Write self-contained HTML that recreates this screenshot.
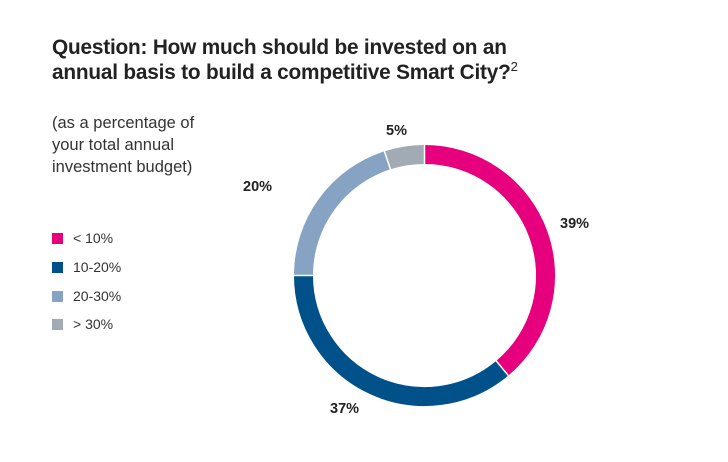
<!DOCTYPE html>
<html><head><style>
body{margin:0;background:#fff;width:728px;height:462px;overflow:hidden;font-family:"Liberation Sans",sans-serif;color:#222;}
.t{position:absolute;left:52px;top:35px;font-size:20.8px;font-weight:bold;line-height:25px;letter-spacing:-0.2px;}
.t sup{font-size:13px;font-weight:normal;line-height:0;vertical-align:8px;}
.s{position:absolute;left:52px;top:112px;font-size:16.5px;line-height:22px;color:#333;}
.l{position:absolute;left:52px;font-size:14px;color:#333;}
.l i{display:inline-block;width:11px;height:11px;margin-right:10px;vertical-align:-1px;}
svg{position:absolute;left:0;top:0;}
</style></head><body>
<div class="t">Question: How much should be invested on an<br>annual basis to build a competitive Smart City?<sup>2</sup></div>
<div class="s">(as a percentage of<br>your total annual<br>investment budget)</div>
<div class="l" style="top:230px"><i style="background:#e6007e"></i>&lt; 10%</div>
<div class="l" style="top:259px"><i style="background:#005189"></i>10-20%</div>
<div class="l" style="top:288px"><i style="background:#86a3c4"></i>20-30%</div>
<div class="l" style="top:316px"><i style="background:#a2abb3"></i>&gt; 30%</div>
<svg width="728" height="462">
<g fill="none" stroke-width="19">
<path d="M424.5,154.5 A121,121 0 0 1 502.3,368.2" stroke="#e6007e"/>
<path d="M502.3,368.2 A121,121 0 0 1 303.5,275.5" stroke="#005189"/>
<path d="M303.5,275.5 A121,121 0 0 1 387.1,160.4" stroke="#86a3c4"/>
<path d="M387.1,160.4 A121,121 0 0 1 424.5,154.5" stroke="#a2abb3"/>
</g>
<g stroke="#fff" stroke-width="1.5">
<line x1="424.5" y1="140" x2="424.5" y2="170"/>
<line x1="493" y1="357" x2="512" y2="380"/>
<line x1="290" y1="275.5" x2="318" y2="275.5"/>
<line x1="384" y1="150" x2="391" y2="171"/>
</g>
<g font-family="Liberation Sans" font-size="14.5" font-weight="bold" fill="#222">
<text x="386" y="135">5%</text>
<text x="560" y="228">39%</text>
<text x="243" y="191">20%</text>
<text x="330" y="413">37%</text>
</g>
</svg>
</body></html>
